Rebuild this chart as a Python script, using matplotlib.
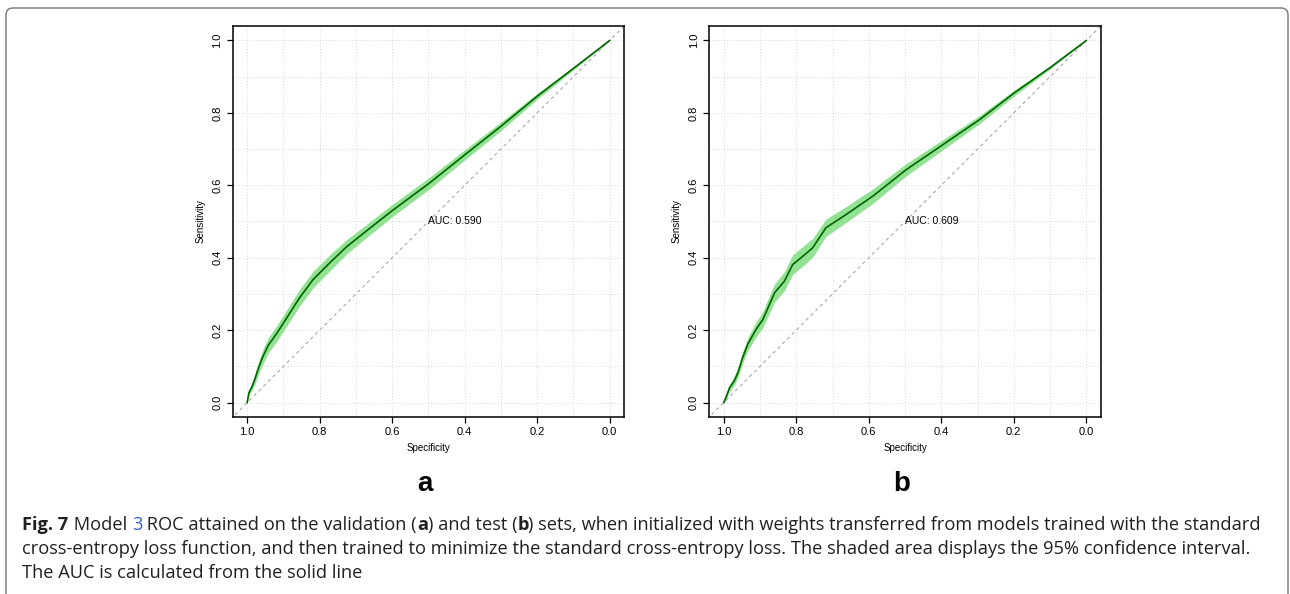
import matplotlib
matplotlib.use("Agg")
import matplotlib.pyplot as plt
from matplotlib.patches import FancyBboxPatch
from matplotlib.transforms import IdentityTransform

# ROC curve (a) validation set
spec_a = [1.000, 0.995, 0.988, 0.979, 0.970, 0.958, 0.942, 0.919, 0.901, 0.873, 0.855,
          0.818, 0.772, 0.726, 0.671, 0.600, 0.500, 0.400, 0.300, 0.200, 0.100, 0.000]
sens_a = [0.000, 0.028, 0.041, 0.064, 0.092, 0.124, 0.158, 0.190, 0.218, 0.262, 0.290,
          0.340, 0.386, 0.430, 0.474, 0.530, 0.604, 0.684, 0.763, 0.846, 0.923, 1.000]
lo_a = [0.000, 0.020, 0.031, 0.050, 0.075, 0.104, 0.137, 0.168, 0.196, 0.239, 0.267,
        0.317, 0.364, 0.410, 0.456, 0.513, 0.588, 0.670, 0.751, 0.838, 0.919, 1.000]
hi_a = [0.000, 0.036, 0.051, 0.078, 0.109, 0.144, 0.179, 0.212, 0.240, 0.285, 0.313,
        0.363, 0.408, 0.450, 0.492, 0.547, 0.620, 0.698, 0.775, 0.854, 0.927, 1.000]

# ROC curve (b) test set
spec_b = [1.000, 0.994, 0.984, 0.971, 0.961, 0.948, 0.934, 0.911, 0.892, 0.874, 0.860, 0.833,
          0.810, 0.782, 0.755, 0.718, 0.663, 0.589, 0.497, 0.396, 0.295, 0.199, 0.100, 0.000]
sens_b = [0.000, 0.014, 0.041, 0.060, 0.083, 0.124, 0.161, 0.202, 0.230, 0.271, 0.303, 0.335,
          0.381, 0.404, 0.427, 0.483, 0.519, 0.570, 0.643, 0.712, 0.781, 0.855, 0.925, 1.000]
lo_b = [0.000, 0.008, 0.031, 0.048, 0.069, 0.108, 0.143, 0.182, 0.208, 0.247, 0.278, 0.309,
        0.354, 0.377, 0.401, 0.459, 0.497, 0.550, 0.626, 0.698, 0.770, 0.847, 0.921, 1.000]
hi_b = [0.000, 0.020, 0.051, 0.072, 0.097, 0.140, 0.179, 0.222, 0.252, 0.295, 0.328, 0.361,
        0.408, 0.431, 0.453, 0.507, 0.541, 0.590, 0.660, 0.726, 0.792, 0.863, 0.929, 1.000]

auc_labels = ["AUC: 0.590", "AUC: 0.609"]
panel_letters = ["a", "b"]
tick_vals = [1.0, 0.8, 0.6, 0.4, 0.2, 0.0]
tick_labels = ["1.0", "0.8", "0.6", "0.4", "0.2", "0.0"]
grid_vals = [1.0, 0.9, 0.8, 0.7, 0.6, 0.5, 0.4, 0.3, 0.2, 0.1, 0.0]

caption = [
    [("Fig. 7", "bold", "#231f20"), (" Model ", "normal", "#231f20"), ("3", "normal", "#3a5fcd"),
     (" ROC attained on the validation (", "normal", "#231f20"), ("a", "bold", "#231f20"),
     (") and test (", "normal", "#231f20"), ("b", "bold", "#231f20"),
     (") sets, when initialized with weights transferred from models trained with the standard",
      "normal", "#231f20")],
    [("cross-entropy loss function, and then trained to minimize the standard cross-entropy loss. "
      "The shaded area displays the 95% confidence interval.", "normal", "#231f20")],
    [("The AUC is calculated from the solid line", "normal", "#231f20")],
]

W, H = 1290, 594
fig = plt.figure(figsize=(W / 100, H / 100), dpi=100)
axfont = "Liberation Sans"


def draw_panel(left_px, spec, sens, lo, hi, auc, letter):
    ax = fig.add_axes([left_px / W, 1 - 417 / H, 391.5 / W, 391 / H])
    ax.set_xlim(1.04, -0.04)
    ax.set_ylim(-0.04, 1.04)
    for g in grid_vals:
        ax.plot([g, g], [-0.04, 1.04], color="#d8d8d8", lw=0.7, ls=(0, (1, 2)), zorder=0)
        ax.plot([-0.04, 1.04], [g, g], color="#d8d8d8", lw=0.7, ls=(0, (1, 2)), zorder=0)
    ax.axline((1, 0), (0, 1), color="#a8a8a8", lw=0.8, ls=(0, (3, 3)), zorder=1)
    ax.fill_between(spec, lo, hi, color="#93e293", lw=0, zorder=2)
    ax.plot(spec, sens, color="#006400", lw=1.2, zorder=3)
    ax.text(0.5, 0.5, auc, fontsize=7.5, family=axfont, ha="left", va="center", zorder=4)

    ax.set_xticks(tick_vals)
    ax.set_xticklabels(tick_labels, family=axfont)
    ax.set_yticks(tick_vals)
    ax.set_yticklabels(tick_labels, family=axfont, rotation=90, va="center")
    ax.tick_params(length=4.5, width=0.9, labelsize=8, pad=3)
    for s in ax.spines.values():
        s.set_linewidth(1.1)
    ax.set_xlabel("Specificity", fontsize=7, family=axfont, labelpad=4)
    ax.set_ylabel("Sensitivity", fontsize=7, family=axfont, labelpad=5)

    cx = left_px + 192
    fig.text(cx / W, 1 - 484 / H, letter, fontsize=20, weight="bold", family=axfont,
             ha="center", va="center")


draw_panel(232.7, spec_a, sens_a, lo_a, hi_a, auc_labels[0], panel_letters[0])
draw_panel(709.3, spec_b, sens_b, lo_b, hi_b, auc_labels[1], panel_letters[1])

# caption, drawn piece by piece in pixel coordinates
renderer = fig.canvas.get_renderer()
capfont = "Open Sans"


def piece_width(s, weight, size):
    t1 = fig.text(0, 0, "x" + s + "x", fontsize=size, weight=weight, family=capfont)
    t2 = fig.text(0, 0, "xx", fontsize=size, weight=weight, family=capfont)
    w = t1.get_window_extent(renderer).width - t2.get_window_extent(renderer).width
    t1.remove()
    t2.remove()
    return w


# fit the first line to the width seen in the figure
size = 12.0
w1 = sum(piece_width(s, wt, size) for s, wt, c in caption[0])
size = size * (1236 / w1)

baselines = [530, 554, 578]
for line, yb in zip(caption, baselines):
    x = 22.5
    for s, wt, c in line:
        fig.text(x, H - yb, s, fontsize=size, weight=wt, color=c, family=capfont,
                 ha="left", va="baseline", transform=IdentityTransform())
        x += piece_width(s, wt, size)

frame = FancyBboxPatch((6, -20), 1282, H - 8 + 20, boxstyle="round,pad=0,rounding_size=7",
                       transform=IdentityTransform(), fill=False, edgecolor="#808080",
                       lw=1.1)
fig.add_artist(frame)

fig.savefig("out.png", dpi=100)
